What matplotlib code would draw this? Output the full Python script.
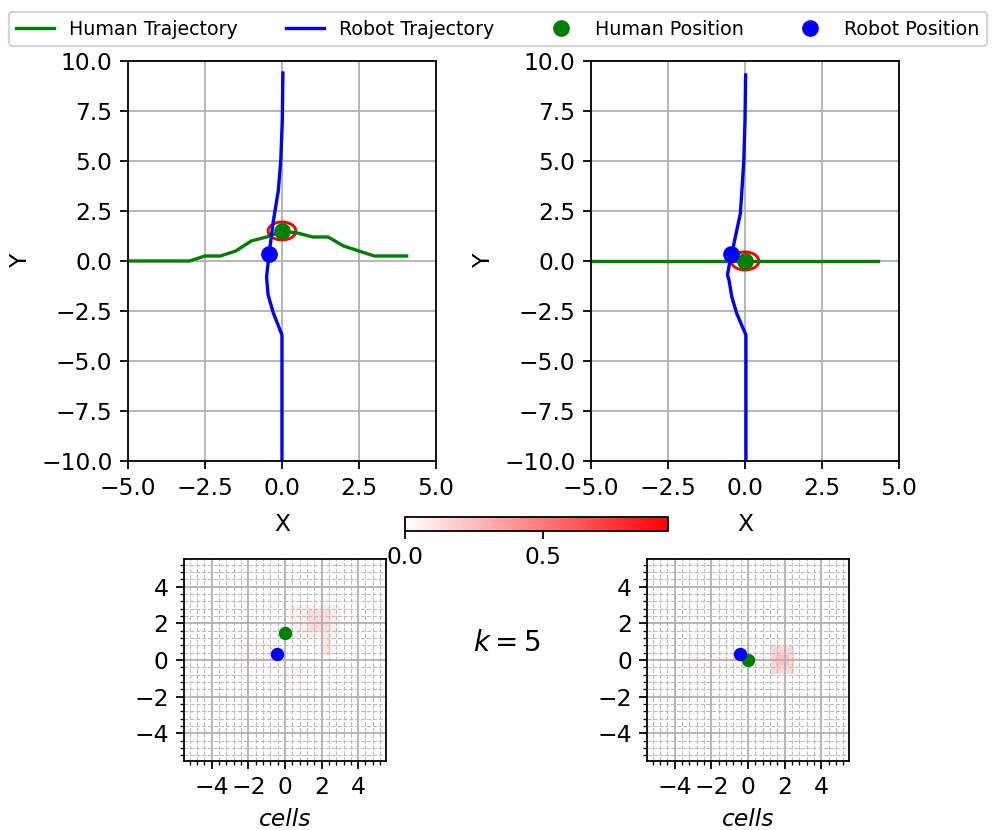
# > Import 3rd-Party Libraries
import numpy as np
import matplotlib
matplotlib.use('Agg')
import matplotlib.pyplot as plt
from matplotlib.colors import LinearSegmentedColormap
from matplotlib.patches import Circle
from matplotlib.ticker import AutoMinorLocator, MultipleLocator

plt.rcParams['font.size'] = 10.5

# > Data: trajectories (left = avoiding case, right = straight case)
human_left_x = [-5.0, -3.0, -2.5, -2.0, -1.5, -1.0, -0.5, 0.0, 0.5, 1.0, 1.5, 2.0, 2.5, 3.0, 4.05]
human_left_y = [0.0, 0.0, 0.25, 0.25, 0.5, 1.0, 1.2, 1.5, 1.4, 1.2, 1.2, 0.75, 0.5, 0.25, 0.25]
robot_left_x = [0.03, 0.01, -0.04, -0.12, -0.28, -0.42, -0.5, -0.45, -0.28, 0.0, 0.0]
robot_left_y = [9.4, 7.0, 5.0, 3.5, 2.0, 0.33, -0.8, -1.7, -2.6, -3.7, -10.0]

human_right_x = [-5.0, 4.32]
human_right_y = [0.0, 0.0]
robot_right_x = [0.02, 0.0, -0.04, -0.1, -0.15, -0.38, -0.45, -0.57, -0.52, -0.43, -0.27, 0.03, 0.03]
robot_right_y = [9.3, 7.0, 5.0, 3.55, 2.38, 0.72, 0.33, -0.7, -0.95, -1.78, -2.62, -3.7, -10.0]

human_pos = [(0.0, 1.5), (0.0, 0.0)]
robot_pos = [(-0.42, 0.33), (-0.45, 0.33)]

# > Data: occupancy heat patches (x0, x1, y0, y1, value)
heat_left = [(0.25, 3.0, 1.25, 3.0, 0.06),
             (1.25, 2.5, 1.5, 2.75, 0.13),
             (2.0, 2.5, 0.25, 1.5, 0.1),
             (-2.75, -0.5, -0.25, 1.0, 0.03),
             (0.0, 1.0, -1.0, -0.25, 0.05)]
heat_right = [(-3.25, 3.0, -0.5, 0.5, 0.03),
              (1.25, 2.5, -0.75, 0.75, 0.15),
              (1.5, 2.25, -0.25, 0.25, 0.24)]

cbar_max = 0.95
k_value = 5

# > Build grids (0.25 cells over [-5.5, 5.5])
edges = np.arange(-5.5, 5.5001, 0.25)
centres = (edges[:-1] + edges[1:]) / 2


def build_grid(patches):
    grid = np.zeros((len(centres), len(centres)))
    for x0, x1, y0, y1, v in patches:
        mx = (centres > x0) & (centres < x1)
        my = (centres > y0) & (centres < y1)
        grid[np.ix_(my, mx)] = np.maximum(grid[np.ix_(my, mx)], v)
    return grid


cmap = LinearSegmentedColormap.from_list('wr', ['white', 'red'])

fig = plt.figure(figsize=(996 / 160, 830 / 160), dpi=160)

ax_tl = fig.add_axes([0.1285, 0.4446, 0.3092, 0.4819])
ax_tr = fig.add_axes([0.5934, 0.4446, 0.3092, 0.4819])
ax_bl = fig.add_axes([0.185, 0.0835, 0.2022, 0.2426])
ax_br = fig.add_axes([0.6493, 0.0835, 0.2034, 0.2426])
cax = fig.add_axes([0.4066, 0.3606, 0.2641, 0.0169])

tops = [(ax_tl, human_left_x, human_left_y, robot_left_x, robot_left_y),
        (ax_tr, human_right_x, human_right_y, robot_right_x, robot_right_y)]

for i, (ax, hx, hy, rx, ry) in enumerate(tops):
    ax.plot(hx, hy, color='green', lw=1.5, label='Human Trajectory')
    ax.plot(rx, ry, color='blue', lw=1.5, label='Robot Trajectory')
    ax.plot(*human_pos[i], 'o', color='green', ms=6.5, label='Human Position')
    ax.plot(*robot_pos[i], 'o', color='blue', ms=6.5, label='Robot Position')
    ax.add_patch(Circle(human_pos[i], 0.45, fill=False, edgecolor='red', lw=1.3))
    ax.set_xlim(-5, 5)
    ax.set_ylim(-10, 10)
    ax.xaxis.set_major_locator(MultipleLocator(2.5))
    ax.yaxis.set_major_locator(MultipleLocator(2.5))
    ax.grid(True, color='#b0b0b0', lw=0.8)
    ax.set_axisbelow(True)
    ax.set_xlabel('X', labelpad=6)
    ax.set_ylabel('Y')

im = None
for i, (ax, patches) in enumerate([(ax_bl, heat_left), (ax_br, heat_right)]):
    im = ax.imshow(build_grid(patches), cmap=cmap, vmin=0, vmax=cbar_max, origin='lower',
                   extent=(-5.5, 5.5, -5.5, 5.5), interpolation='nearest', zorder=0)
    ax.plot(*human_pos[i], 'o', color='green', ms=5)
    ax.plot(*robot_pos[i], 'o', color='blue', ms=5)
    ax.set_xlim(-5.5, 5.5)
    ax.set_ylim(-5.5, 5.5)
    ax.set_xticks([-4, -2, 0, 2, 4])
    ax.set_yticks([-4, -2, 0, 2, 4])
    ax.xaxis.set_minor_locator(AutoMinorLocator(5))
    ax.yaxis.set_minor_locator(AutoMinorLocator(5))
    ax.grid(True, which='major', color='#b0b0b0', lw=0.8)
    ax.grid(True, which='minor', color='#bdbdbd', lw=0.5, ls='--')
    ax.set_xlabel('cells', style='italic')

cb = fig.colorbar(im, cax=cax, orientation='horizontal')
cb.set_ticks([0.0, 0.5])

fig.text(0.509, 0.225, r'$k = %d$' % k_value, fontsize=12.5, ha='center', va='center')

handles, labels = ax_tl.get_legend_handles_labels()
fig.legend(handles, labels, loc='upper center', bbox_to_anchor=(0.5, 0.997), ncol=4,
           fontsize=8.55, columnspacing=2.5, handlelength=2.0)

plt.savefig('out.png', dpi=160)
